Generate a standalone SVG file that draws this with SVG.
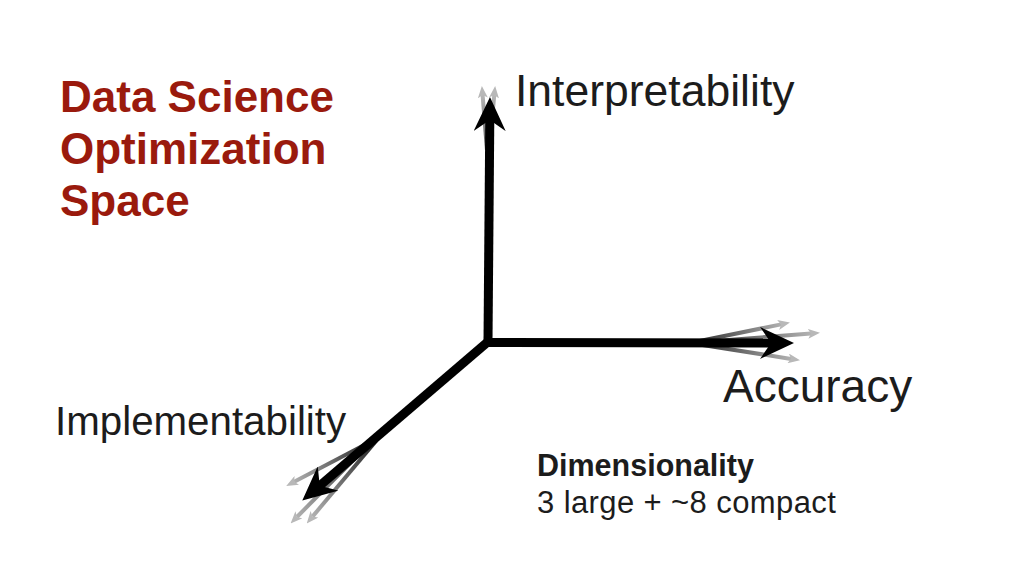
<svg xmlns="http://www.w3.org/2000/svg" width="1024" height="576" viewBox="0 0 1024 576">
<style>
.title{font-family:"Liberation Sans",Arial,sans-serif;font-weight:bold;font-size:44px;fill:#9a1a0d}
.lbl{font-family:"Liberation Sans",Arial,sans-serif;fill:#1c1c1c}
.axis{fill:none;stroke:#000;stroke-width:9}
.ghost{fill:none;stroke-width:4}
</style>
<defs>
<marker id="head" markerUnits="userSpaceOnUse" viewBox="0 0 34 32" markerWidth="34" markerHeight="32" refX="12" refY="16" orient="auto">
<path d="M0,0 L34,16 L0,32 L11,16 z" fill="#000"/>
</marker>
<marker id="ghead" markerUnits="userSpaceOnUse" viewBox="0 0 12 10" markerWidth="12" markerHeight="10" refX="3" refY="5" orient="auto">
<path d="M0,0 L12,5 L0,10 L3,5 z" fill="#b8b8b8"/>
</marker>
<linearGradient id="gT1" gradientUnits="userSpaceOnUse" x1="487" y1="150" x2="482" y2="88"><stop offset="0" stop-color="#555"/><stop offset="1" stop-color="#c4c4c4"/></linearGradient>
<linearGradient id="gT2" gradientUnits="userSpaceOnUse" x1="489" y1="150" x2="495" y2="88"><stop offset="0" stop-color="#555"/><stop offset="1" stop-color="#c4c4c4"/></linearGradient>
<linearGradient id="gR1" gradientUnits="userSpaceOnUse" x1="690" y1="343" x2="788" y2="323"><stop offset="0" stop-color="#222"/><stop offset="1" stop-color="#bbb"/></linearGradient>
<linearGradient id="gR2" gradientUnits="userSpaceOnUse" x1="690" y1="343" x2="818" y2="333"><stop offset="0" stop-color="#222"/><stop offset="1" stop-color="#bbb"/></linearGradient>
<linearGradient id="gR3" gradientUnits="userSpaceOnUse" x1="690" y1="343" x2="798" y2="360"><stop offset="0" stop-color="#222"/><stop offset="1" stop-color="#bbb"/></linearGradient>
<linearGradient id="gD1" gradientUnits="userSpaceOnUse" x1="372" y1="441" x2="288" y2="485"><stop offset="0" stop-color="#222"/><stop offset="1" stop-color="#bbb"/></linearGradient>
<linearGradient id="gD2" gradientUnits="userSpaceOnUse" x1="372" y1="441" x2="292" y2="522"><stop offset="0" stop-color="#222"/><stop offset="1" stop-color="#bbb"/></linearGradient>
<linearGradient id="gD3" gradientUnits="userSpaceOnUse" x1="376" y1="441" x2="308" y2="522"><stop offset="0" stop-color="#222"/><stop offset="1" stop-color="#bbb"/></linearGradient>
</defs>
<rect width="1024" height="576" fill="#fff"/>

<g id="connectors">
<g id="ghosts">
<line class="ghost" x1="487" y1="150" x2="482.6" y2="95" stroke="url(#gT1)" marker-end="url(#ghead)"/>
<line class="ghost" x1="489" y1="150" x2="494.3" y2="95" stroke="url(#gT2)" marker-end="url(#ghead)"/>
<line class="ghost" x1="690" y1="343" x2="781.1" y2="324.4" stroke="url(#gR1)" marker-end="url(#ghead)"/>
<line class="ghost" x1="690" y1="343" x2="811" y2="333.5" stroke="url(#gR2)" marker-end="url(#ghead)"/>
<line class="ghost" x1="690" y1="343" x2="791.1" y2="358.9" stroke="url(#gR3)" marker-end="url(#ghead)"/>
<line class="ghost" x1="372" y1="441" x2="294.2" y2="481.8" stroke="url(#gD1)" marker-end="url(#ghead)"/>
<line class="ghost" x1="372" y1="441" x2="296.9" y2="517" stroke="url(#gD2)" marker-end="url(#ghead)"/>
<line class="ghost" x1="376" y1="441" x2="312.5" y2="516.6" stroke="url(#gD3)" marker-end="url(#ghead)"/>
</g>
<path id="axis-interpretability" class="axis" d="M488,342 L489.8,119" marker-end="url(#head)"/>
<path id="axis-accuracy" class="axis" d="M484,342.5 L772,343" marker-end="url(#head)"/>
<path id="axis-implementability" class="axis" d="M490,340 L319,486.3" marker-end="url(#head)"/>
</g>

<g id="title">
<text class="title" x="60" y="112">Data Science</text>
<text class="title" x="60" y="164">Optimization</text>
<text class="title" x="60" y="216">Space</text>
</g>
<g id="node-interpretability"><text class="lbl" x="515" y="106" font-size="44.5">Interpretability</text></g>
<g id="node-accuracy"><text class="lbl" x="723" y="402" font-size="46">Accuracy</text></g>
<g id="node-implementability"><text class="lbl" x="55" y="435" font-size="40.3">Implementability</text></g>
<g id="note">
<text class="lbl" x="537" y="476" font-size="30.5" font-weight="bold" fill="#111">Dimensionality</text>
<text class="lbl" x="537" y="513" font-size="31" letter-spacing="0.4">3 large + ~8 compact</text>
</g>
</svg>
